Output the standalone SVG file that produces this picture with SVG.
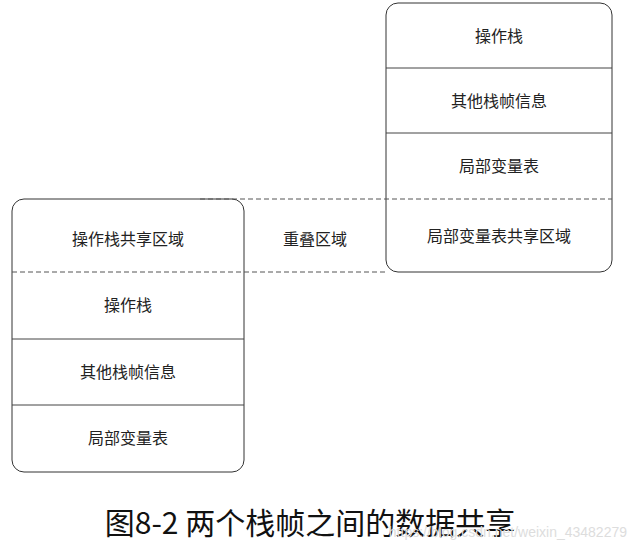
<svg xmlns="http://www.w3.org/2000/svg" width="632" height="551" viewBox="0 0 632 551">
<style>
.box{fill:#fff;stroke:#333;stroke-width:1}
.sep{stroke:#444;stroke-width:1}
.dash{stroke:#555;stroke-width:1;stroke-dasharray:5,3;fill:none}
.t{font-family:"Liberation Serif","Noto Sans CJK SC",serif;font-size:16px;fill:#222;text-anchor:middle;dominant-baseline:central}
</style>
<rect width="632" height="551" fill="#fff"/>
<g id="right">
<rect class="box" x="386" y="3" width="226" height="269" rx="12"/>
<line class="sep" x1="386" y1="68" x2="612" y2="68"/>
<line class="sep" x1="386" y1="133" x2="612" y2="133"/>
<text class="t" x="499" y="36">操作栈</text>
<text class="t" x="499" y="101">其他栈帧信息</text>
<text class="t" x="499" y="166">局部变量表</text>
<text class="t" x="499" y="236">局部变量表共享区域</text>
</g>
<g id="left">
<rect class="box" x="12" y="199" width="232" height="273" rx="12"/>
<line class="sep" x1="12" y1="339" x2="244" y2="339"/>
<line class="sep" x1="12" y1="405" x2="244" y2="405"/>
<text class="t" x="128" y="239">操作栈共享区域</text>
<text class="t" x="128" y="305">操作栈</text>
<text class="t" x="128" y="372">其他栈帧信息</text>
<text class="t" x="128" y="438">局部变量表</text>
</g>
<g id="connectors">
<line class="dash" x1="200" y1="199" x2="612" y2="199"/>
<line class="dash" x1="12" y1="272" x2="386" y2="272"/>
</g>
<g id="overlap"><text class="t" x="315" y="239">重叠区域</text></g>
<text x="310" y="534" font-family="'Noto Sans CJK SC',sans-serif" font-size="30" fill="#111" text-anchor="middle">图8-2 两个栈帧之间的数据共享</text>
<text x="627" y="537" font-family="'Liberation Sans',sans-serif" font-size="14" fill="#ddd" text-anchor="end">https://blog.csdn.net/weixin_43482279</text>
</svg>
